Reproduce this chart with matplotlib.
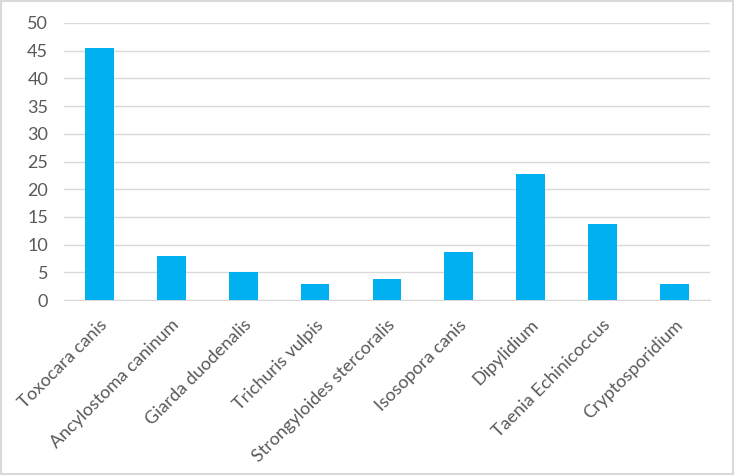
import matplotlib.pyplot as plt
from matplotlib.patches import Rectangle

# values
parasites = ['Toxocara canis', 'Ancylostoma caninum', 'Giarda duodenalis',
             'Trichuris vulpis', 'Strongyloides stercoralis', 'Isosopora canis',
             'Dipylidium', 'Taenia Echinicoccus', 'Cryptosporidium']
prevalence = [45.5, 7.9, 5.0, 3.0, 3.9, 8.7, 22.7, 13.8, 3.0]
y_ticks = [0, 5, 10, 15, 20, 25, 30, 35, 40, 45, 50]

plt.rcParams['font.family'] = ['Lato', 'DejaVu Sans']

fig = plt.figure(figsize=(7.35, 4.75), dpi=100)
ax = fig.add_axes([0.0864, 0.368, 0.880, 0.584])

x = range(len(parasites))
ax.bar(x, prevalence, width=0.4, color='#00B0F0', zorder=3)

ax.set_ylim(0, 50)
ax.set_xlim(-0.5, len(parasites) - 0.5)
ax.set_yticks(y_ticks)
ax.set_xticks(list(x))
ax.set_xticklabels(parasites, rotation=45, ha='right', va='top',
                   rotation_mode='anchor')
ax.tick_params(axis='both', length=0, colors='#595959')
ax.tick_params(axis='x', pad=12, labelsize=13)
ax.tick_params(axis='y', pad=11, labelsize=13)

ax.grid(axis='y', color='#D9D9D9', linewidth=1, zorder=0)
for side in ['top', 'right', 'left']:
    ax.spines[side].set_visible(False)
ax.spines['bottom'].set_color('#D9D9D9')

# chart area border
fig.patches.append(Rectangle((0.002, 0.003), 0.995, 0.994, transform=fig.transFigure,
                             fill=False, edgecolor='#D9D9D9', linewidth=1.5))

fig.savefig('out.png', dpi=100)
